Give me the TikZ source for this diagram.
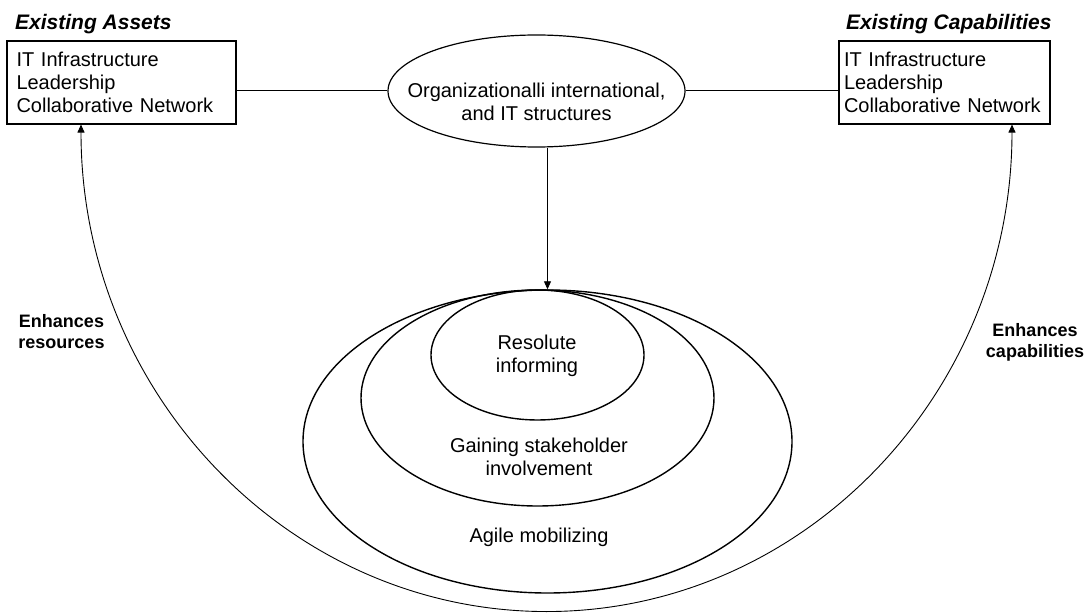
\documentclass[tikz,border=0pt]{standalone}
\usepackage{fontspec}
\setmainfont{Liberation Sans}
\usetikzlibrary{arrows.meta,shapes.geometric,calc}
\tikzset{
  txt/.style={font=\fontsize{20}{23}\selectfont, inner sep=0pt, align=center},
  ttl/.style={font=\fontsize{21}{24}\selectfont\bfseries\itshape, inner sep=0pt, anchor=base west},
  lbl/.style={font=\fontsize{18}{21}\selectfont\bfseries, inner sep=0pt, align=center},
  listbox/.style={draw, line width=1.1pt, minimum height=83pt, align=left,
    font=\fontsize{20}{23}\selectfont},
  ring/.style={draw, ellipse, line width=1.4pt, inner sep=0pt},
  tip/.style={-{Triangle[length=8pt,width=7pt]}, line width=0.9pt}
}
\begin{document}
\begin{tikzpicture}[x=1pt,y=1pt]
\useasboundingbox (0,0) rectangle (1085,614);
% titles
\node[ttl] (t1) at (15,584) {Existing Assets};
\node[ttl] (t2) at (846,584) {Existing Capabilities};
% boxes
\node[listbox, minimum width=229pt, text width=210pt, inner xsep=9.5pt] (left) at (121.5,531.5)
  {IT Infrastructure\\Leadership\\Collaborative Network};
\node[listbox, minimum width=211pt, text width=201pt, inner xsep=5pt] (right) at (944.5,531.5)
  {IT Infrastructure\\Leadership\\Collaborative Network};
% top ellipse
\node[ring, line width=1.2pt, minimum width=297pt, minimum height=112pt] (top) at (536.5,523) {};
\node[txt] (toptxt) at (536.5,512) {Organizationalli international,\\and IT structures};
\draw[line width=1pt] (top.west) -- (top.west -| left.east);
\draw[line width=1pt] (top.east) -- (top.east -| right.west);
% nested ellipses
\node[ring, minimum width=489pt, minimum height=303pt] (outer) at (547.5,172.5) {};
\node[ring, minimum width=353pt, minimum height=216pt] (middle) at (537.5,216) {};
\node[ring, minimum width=213pt, minimum height=130pt] (inner) at (537.5,259) {};
\node[txt] (t_in) at (537,258) {Resolute\\informing};
\node[txt] (t_mid) at (539,157) {Gaining stakeholder\\involvement};
\node[txt] (t_out) at (539,77) {Agile mobilizing};
% arrow from top ellipse
\draw[tip] (outer.north |- top.south) -- (outer.north);
% big arc
\coordinate (arcL) at (left.south -| 81,0);
\coordinate (arcR) at (right.south -| 1012,0);
\draw[{Triangle[length=8pt,width=7pt]}-{Triangle[length=8pt,width=7pt]}, line width=0.9pt]
  (arcL) arc[start angle=180, end angle=360, x radius=465.5, y radius=487];
% labels
\node[lbl] (l1) at (61.5,282) {Enhances\\resources};
\node[lbl] (l2) at (1035,272) {Enhances\\capabilities};
\end{tikzpicture}
\end{document}
